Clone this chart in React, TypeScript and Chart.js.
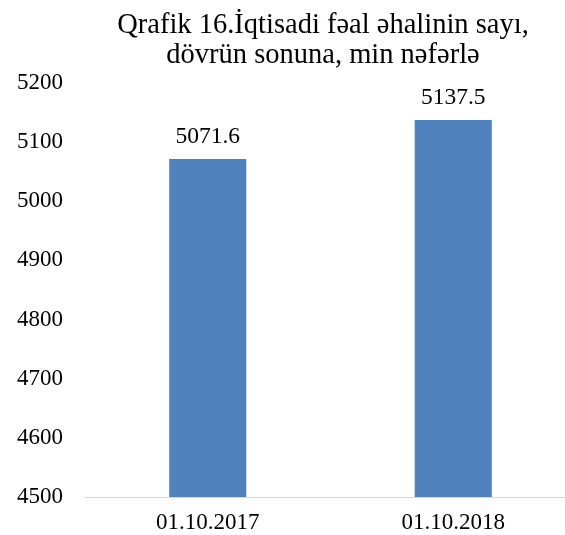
import { useEffect, useRef } from "react";
import { Chart, registerables } from "chart.js";

Chart.register(...registerables);

const categories = ["01.10.2017", "01.10.2018"];
const values = [5071.6, 5137.5];
const titleLines = ["Qrafik 16.İqtisadi fəal əhalinin sayı,", "dövrün sonuna, min nəfərlə"];
const yMin = 4500;
const yMax = 5200;
const yStep = 100;

const FONT = "'Liberation Serif', 'Times New Roman', serif";

export default function App() {
  const ref = useRef<HTMLCanvasElement | null>(null);
  useEffect(() => {
    if (!ref.current) return;
    const overlay = {
      id: "overlay",
      afterDatasetsDraw(chart: any) {
        const ctx = chart.ctx;
        ctx.save();
        ctx.fillStyle = "#000";
        ctx.textAlign = "center";
        ctx.textBaseline = "alphabetic";
        ctx.font = `23.5px ${FONT}`;
        const meta = chart.getDatasetMeta(0);
        meta.data.forEach((bar: any, i: number) => {
          ctx.fillText(values[i].toFixed(1), bar.x, bar.y - 16);
        });
        ctx.font = `28.5px ${FONT}`;
        const cx = 323;
        ctx.fillText(titleLines[0], cx, 33);
        ctx.fillText(titleLines[1], cx, 63);
        ctx.restore();
      },
    };
    const chart = new Chart(ref.current, {
      type: "bar",
      data: {
        labels: categories,
        datasets: [
          {
            data: values,
            backgroundColor: "#4F81BD",
            borderWidth: 0,
            barPercentage: 1,
            categoryPercentage: 0.314,
          },
        ],
      },
      options: {
        animation: false,
        responsive: false,
        maintainAspectRatio: false,
        layout: { padding: { top: 83, left: 0, right: 0, bottom: 0 } },
        plugins: {
          legend: { display: false },
          title: { display: false },
          tooltip: { enabled: false },
        },
        scales: {
          x: {
            grid: { display: false, drawTicks: false },
            border: { display: true, color: "#D9D9D9", width: 1 },
            ticks: { color: "#000", font: { family: FONT, size: 23 }, padding: 12 },
            afterFit: (s: any) => {
              s.height = 38;
            },
          },
          y: {
            min: yMin,
            max: yMax,
            grid: { display: false, drawTicks: false },
            border: { display: false },
            ticks: {
              stepSize: yStep,
              color: "#000",
              font: { family: FONT, size: 23 },
              padding: 22,
              callback: (v: any) => String(v),
            },
            afterFit: (s: any) => {
              s.width = 85;
            },
          },
        },
      },
      plugins: [overlay],
    });
    return () => chart.destroy();
  }, []);
  return (
    <div style={{ position: "fixed", left: 0, top: 0, width: 565, height: 535, overflow: "hidden", background: "#fff" }}>
      <canvas ref={ref} width={576} height={535} style={{ width: 576, height: 535, display: "block" }} />
    </div>
  );
}
